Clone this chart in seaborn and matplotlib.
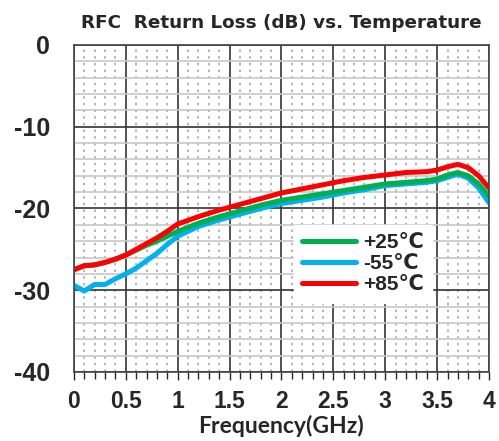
import matplotlib
matplotlib.use("Agg")
import matplotlib.pyplot as plt
from matplotlib.ticker import MultipleLocator
import seaborn as sns
import pandas as pd

freq = [0, 0.1, 0.2, 0.3, 0.4, 0.5, 0.6, 0.7, 0.8, 0.9, 1.0, 1.2, 1.4, 1.6, 1.8,
        2.0, 2.2, 2.4, 2.6, 2.8, 3.0, 3.2, 3.4, 3.5, 3.6, 3.7, 3.8, 3.9, 4.0]
rl_25 = [-27.5, -27.0, -26.9, -26.6, -26.2, -25.7, -25.1, -24.5, -24.0, -23.4, -22.8,
         -21.8, -21.0, -20.3, -19.6, -19.0, -18.6, -18.2, -17.8, -17.4, -17.0, -16.8,
         -16.6, -16.4, -15.9, -15.6, -16.0, -17.0, -18.5]
rl_m55 = [-29.4, -30.1, -29.3, -29.3, -28.6, -28.0, -27.3, -26.4, -25.5, -24.4, -23.4,
          -22.2, -21.4, -20.7, -20.0, -19.4, -19.0, -18.6, -18.1, -17.7, -17.2, -17.0,
          -16.8, -16.6, -16.2, -15.8, -16.3, -17.5, -19.3]
rl_85 = [-27.5, -27.0, -26.9, -26.6, -26.2, -25.7, -25.0, -24.3, -23.6, -22.8, -21.9,
         -21.0, -20.2, -19.5, -18.8, -18.1, -17.6, -17.1, -16.6, -16.2, -15.9, -15.6,
         -15.5, -15.3, -14.9, -14.6, -15.0, -16.0, -17.5]
x_ticks = [0, 0.5, 1, 1.5, 2, 2.5, 3, 3.5, 4]
x_labels = ["0", "0.5", "1", "1.5", "2", "2.5", "3", "3.5", "4"]
y_ticks = [0, -10, -20, -30, -40]

df = pd.DataFrame({"freq": freq, "+25℃": rl_25, "-55℃": rl_m55, "+85℃": rl_85})

sns.set_style("white")
plt.rcParams["font.family"] = ["Liberation Sans", "DejaVu Sans"]

fig = plt.figure(figsize=(4.99, 4.41), dpi=100)
ax = fig.add_axes([0.148, 0.1565, 0.832, 0.7415])

# draw order: blue, green, red (red on top)
sns.lineplot(x=df.freq, y=df["-55℃"], color="#00b0f0", lw=3.6, ax=ax, label="-55℃")
sns.lineplot(x=df.freq, y=df["+25℃"], color="#00b050", lw=3.6, ax=ax, label="+25℃")
sns.lineplot(x=df.freq, y=df["+85℃"], color="#ff0000", lw=3.6, ax=ax, label="+85℃")

ax.set_xlim(0, 4)
ax.set_ylim(-40, 0)
ax.set_xticks(x_ticks)
ax.set_xticklabels(x_labels)
ax.set_yticks(y_ticks)
ax.set_yticklabels([str(v) for v in y_ticks])
ax.xaxis.set_minor_locator(MultipleLocator(0.1))
ax.yaxis.set_minor_locator(MultipleLocator(2))

ax.grid(which="major", axis="both", color="#333333", lw=1.2, zorder=0)
ax.grid(which="minor", axis="x", color="#aaaaaa", lw=1.2, ls=(0, (1.5, 2.5)), zorder=0)
ax.grid(which="minor", axis="y", color="#c8c8c8", lw=1.2, zorder=0)
ax.set_axisbelow(True)

for s in ax.spines.values():
    s.set_color("#444444")
    s.set_linewidth(1.2)

ax.tick_params(axis="y", which="major", direction="out", length=6, width=1.2, pad=11,
               labelsize=18)
ax.tick_params(axis="y", which="minor", length=0)
ax.tick_params(axis="x", which="both", direction="out", length=5, width=1, pad=7,
               labelsize=16.5, bottom=True)
ax.tick_params(axis="x", which="major", length=6)
for t in ax.get_xticklabels() + ax.get_yticklabels():
    t.set_fontweight("bold")

ax.set_xlabel("Frequency(GHz)", fontsize=16.5, fontweight="bold", labelpad=1,
              family=["Lato", "DejaVu Sans"])
ax.set_ylabel("")
ax.set_title("RFC  Return Loss (dB) vs. Temperature", fontsize=13.2, fontweight="bold",
             pad=12, family=["DejaVu Sans"])

handles, labels = ax.get_legend_handles_labels()
order = [1, 0, 2]
leg = ax.legend([handles[i] for i in order], [labels[i] for i in order],
                loc="lower left", bbox_to_anchor=(0.505, 0.18), frameon=True,
                fancybox=False, framealpha=1, edgecolor="white",
                prop={"weight": "bold", "size": 15}, handlelength=2.6,
                handletextpad=0.3, labelspacing=0.1, borderpad=0.4)

fig.savefig("out.png", dpi=100)
